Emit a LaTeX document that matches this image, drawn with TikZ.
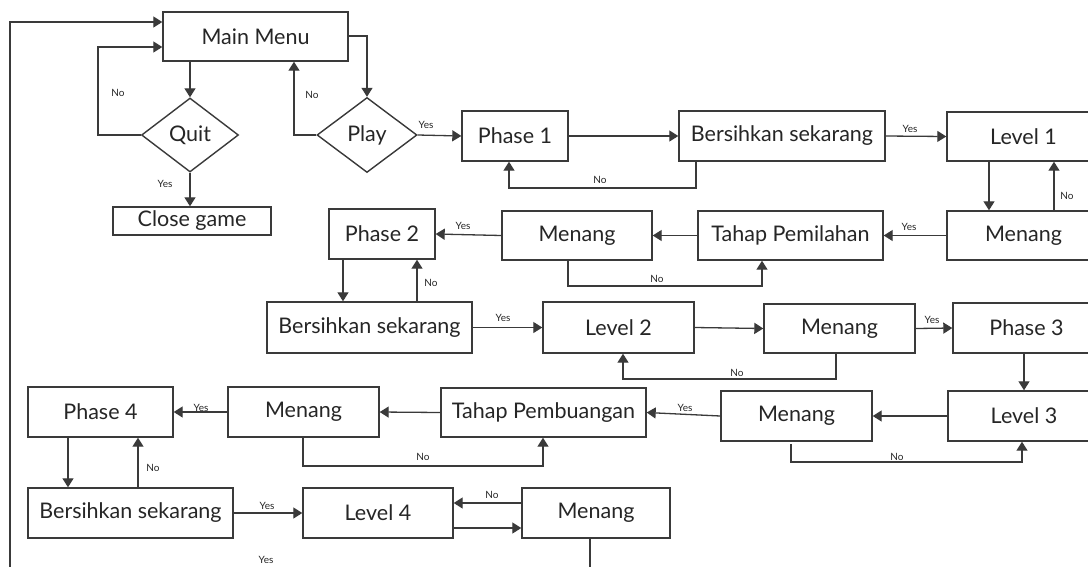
\documentclass[tikz,border=0pt]{standalone}
\usepackage{fontspec}
\setmainfont{Lato}
\usetikzlibrary{shapes.geometric,arrows.meta}
\definecolor{ln}{HTML}{3A3A3A}
\definecolor{tx}{HTML}{262626}
\tikzset{
  box/.style={draw=ln, line width=1.4pt, rectangle, inner sep=0pt, text=tx, font=\fontsize{21.5}{23}\selectfont},
  dia/.style={draw=ln, line width=1.4pt, diamond, inner sep=0pt, text=tx, font=\fontsize{21.5}{23}\selectfont},
  arr/.style={draw=ln, line width=1.3pt, -{Triangle[length=9pt,width=11pt]}},
  ln/.style={draw=ln, line width=1.3pt},
  lbl/.style={text=tx, font=\fontsize{10}{11}\selectfont, inner sep=0pt}
}
\begin{document}
\begin{tikzpicture}[x=1pt,y=-1pt]
\useasboundingbox (0,0) rectangle (1088,566);
\fill[white] (0,0) rectangle (1088,566);
% nodes
\node[box, minimum width=185pt, minimum height=49pt] (mm) at (255.5,36.5) {Main Menu};
\node[dia, minimum width=97pt, minimum height=74pt] (quit) at (190,135) {Quit};
\node[dia, minimum width=100pt, minimum height=75pt] (play) at (367,135) {Play};
\node[box, minimum width=158pt, minimum height=28pt] (close) at (192,221) {Close game};
\node[box, minimum width=106pt, minimum height=50pt] (p1) at (515,136) {Phase 1};
\node[box, minimum width=206pt, minimum height=50pt] (b1) at (782,136) {Bersihkan sekarang};
\node[box, minimum width=153pt, minimum height=49pt] (l1) at (1023.5,136.5) {Level 1};
\node[box, minimum width=153pt, minimum height=49pt] (m1) at (1023.5,235.5) {Menang};
\node[box, minimum width=185pt, minimum height=49pt] (tp) at (790.5,235.5) {Tahap Pemilahan};
\node[box, minimum width=150pt, minimum height=49pt] (m2) at (577,235.5) {Menang};
\node[box, minimum width=106pt, minimum height=50pt] (p2) at (382,234) {Phase 2};
\node[box, minimum width=205pt, minimum height=51pt] (b2) at (369.5,327.5) {Bersihkan sekarang};
\node[box, minimum width=151pt, minimum height=51pt] (l2) at (618.5,327.5) {Level 2};
\node[box, minimum width=151pt, minimum height=49pt] (m3) at (839.5,328.5) {Menang};
\node[box, minimum width=147pt, minimum height=50pt] (p3) at (1026.5,328) {Phase 3};
\node[box, minimum width=152pt, minimum height=50pt] (l3) at (1024,416) {Level 3};
\node[box, minimum width=151pt, minimum height=50pt] (m4) at (796.5,416) {Menang};
\node[box, minimum width=205pt, minimum height=49pt] (tpb) at (543.5,412.5) {Tahap Pembuangan};
\node[box, minimum width=151pt, minimum height=50pt] (m4b) at (303.5,412) {Menang};
\node[box, minimum width=145pt, minimum height=50pt] (p4) at (100.5,412) {Phase 4};
\node[box, minimum width=205pt, minimum height=50pt] (b3) at (130.5,513) {Bersihkan sekarang};
\node[box, minimum width=150pt, minimum height=50pt] (l4) at (378,513) {Level 4};
\node[box, minimum width=148pt, minimum height=50pt] (m5) at (596,513) {Menang};
% helper coordinates
\coordinate (qL) at (98,135);
\coordinate (qT) at (98,47);
\coordinate (pL) at (294,135);
\coordinate (loopB) at (10,570);
\coordinate (loopT) at (10,22);
\coordinate (m5B) at (590,570);
% top section
\draw[arr] (mm.south -| quit.north) -- (quit.north);
\draw[arr] (mm.east |- 0,36) -| (play.north);
\draw[arr] (quit.west) -- (qL) -- (qT) -- (mm.west |- qT);
\node[lbl] at (118,93) {No};
\draw[arr] (play.west) -- (pL) -- (pL |- mm.south);
\node[lbl] at (312,95) {No};
\draw[arr] (loopB) -- (loopT) -- (mm.west |- loopT);
\draw[arr] (quit.south) -- (close.north -| quit.south);
\node[lbl] at (165,184) {Yes};
\draw[arr] (play.east) -- (p1.west);
\node[lbl] at (426,125) {Yes};
% row 1
\draw[arr] (p1.east) -- (b1.west);
\draw[arr] (b1.south -| 696,0) -- (696,188) -- (509,188) -- (p1.south -| 509,0);
\node[lbl] at (600,180) {No};
\draw[arr] (b1.east) -- (l1.west);
\node[lbl] at (910,129) {Yes};
\draw[arr] (l1.south -| 989,0) -- (m1.north -| 989,0);
\draw[arr] (m1.north -| 1054,0) -- (l1.south -| 1054,0);
\node[lbl] at (1067,196) {No};
% row 2
\draw[arr] (m1.west) -- (tp.east);
\node[lbl] at (909,227) {Yes};
\draw[arr] (tp.west) -- (m2.east);
\draw[arr] (m2.west) -- (p2.east);
\node[lbl] at (463,226) {Yes};
\draw[arr] (m2.south -| 568,0) -- (568,286) -- (762,286) -- (tp.south -| 762,0);
\node[lbl] at (657,279) {No};
\draw[arr] (p2.south -| 343,0) -- (b2.north -| 343,0);
\draw[arr] (b2.north -| 417,0) -- (p2.south -| 417,0);
\node[lbl] at (431,283) {No};
% row 3
\draw[arr] (b2.east) -- (l2.west);
\node[lbl] at (503,318) {Yes};
\draw[arr] (l2.east) -- (m3.west);
\draw[arr] (m3.south -| 836,0) -- (836,379) -- (623,379) -- (l2.south -| 623,0);
\node[lbl] at (737,373) {No};
\draw[arr] (m3.east) -- (p3.west);
\node[lbl] at (932,320) {Yes};
\draw[arr] (p3.south -| 1024,0) -- (l3.north -| 1024,0);
% row 4
\draw[arr] (l3.west) -- (m4.east);
\draw[arr] (m4.west) -- (tpb.east);
\node[lbl] at (685,408) {Yes};
\draw[arr] (791,444) -- (791,462) -- (1022,462) -- (l3.south -| 1022,0);
\node[lbl] at (897,457) {No};
\draw[arr] (tpb.west) -- (m4b.east);
\draw[arr] (m4b.west) -- (p4.east);
\node[lbl] at (201,408) {Yes};
\draw[arr] (m4b.south -| 303,0) -- (303,466) -- (543,466) -- (tpb.south -| 543,0);
\node[lbl] at (423,457) {No};
\draw[arr] (p4.south -| 68,0) -- (b3.north -| 68,0);
\draw[arr] (b3.north -| 138,0) -- (p4.south -| 138,0);
\node[lbl] at (153,468) {No};
% row 5
\draw[arr] (b3.east) -- (l4.west);
\node[lbl] at (267,506) {Yes};
\draw[arr] (m5.west |- 0,503) -- (l4.east |- 0,503);
\node[lbl] at (492,495) {No};
\draw[arr] (l4.east |- 0,528) -- (m5.west |- 0,528);
\draw[ln] (m5.south -| m5B) -- (m5B);
\node[lbl] at (266,560) {Yes};
\end{tikzpicture}
\end{document}
